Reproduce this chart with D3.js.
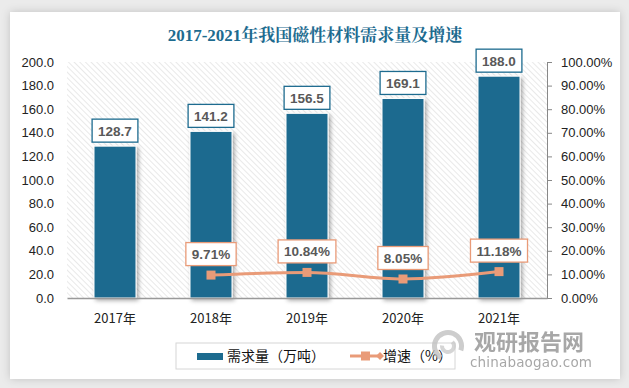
<!DOCTYPE html>
<html>
<head>
<meta charset="utf-8">
<script src="https://cdn.jsdelivr.net/npm/d3@7"></script>
<style>
  body { margin: 0; background: #ebebeb; }
  svg { display: block; }
</style>
</head>
<body>
<div id="viz"></div>
<script>
const years = ['2017年', '2018年', '2019年', '2020年', '2021年'];
const demand = [128.7, 141.2, 156.5, 169.1, 188.0];
const growth = [null, 9.71, 10.84, 8.05, 11.18];
const leftTicks = [0, 20, 40, 60, 80, 100, 120, 140, 160, 180, 200];
const rightTicks = [0, 10, 20, 30, 40, 50, 60, 70, 80, 90, 100];

const width = 629;
const height = 388;
const blue = '#1d6b8f';
const orange = '#e99b78';
const font = 'Arial, "Liberation Sans", sans-serif';
const cjk = '"Microsoft YaHei", "Noto Sans CJK SC", sans-serif';

const svg = d3.select('#viz').append('svg')
  .attr('width', width)
  .attr('height', height);

const defs = svg.append('defs');

const cardShadow = defs.append('filter').attr('id', 'cardShadow')
  .attr('x', '-5%').attr('y', '-5%').attr('width', '110%').attr('height', '110%');
cardShadow.append('feDropShadow')
  .attr('dx', 0).attr('dy', 0).attr('stdDeviation', 4)
  .attr('flood-color', '#000').attr('flood-opacity', 0.18);

const barShadow = defs.append('filter').attr('id', 'barShadow')
  .attr('x', '-20%').attr('y', '-10%').attr('width', '150%').attr('height', '120%');
barShadow.append('feDropShadow')
  .attr('dx', 2).attr('dy', 2).attr('stdDeviation', 2)
  .attr('flood-color', '#000').attr('flood-opacity', 0.35);

// hatched plot background, lines running top-left to bottom-right
const hatch = defs.append('pattern').attr('id', 'hatch')
  .attr('width', 4).attr('height', 4)
  .attr('patternUnits', 'userSpaceOnUse')
  .attr('patternTransform', 'rotate(-45)');
hatch.append('line')
  .attr('x1', 0).attr('y1', 0).attr('x2', 0).attr('y2', 4)
  .attr('stroke', '#d4d4d4').attr('stroke-width', 1);

// card
svg.append('rect')
  .attr('x', 10).attr('y', 12)
  .attr('width', 610).attr('height', 367)
  .attr('fill', '#fff')
  .attr('filter', 'url(#cardShadow)');

svg.append('text')
  .attr('x', 315).attr('y', 41)
  .attr('text-anchor', 'middle')
  .attr('fill', '#1d6b8f')
  .attr('font-family', '"Times New Roman", "Liberation Serif", "Noto Serif CJK SC", serif')
  .attr('font-weight', 'bold')
  .attr('font-size', 17)
  .text('2017-2021年我国磁性材料需求量及增速');

const plot = { left: 67, right: 547, top: 62, bottom: 298 };

const x = d3.scaleBand()
  .domain(years)
  .range([plot.left, plot.right])
  .paddingInner(0.56)
  .paddingOuter(0.28);

const yLeft = d3.scaleLinear().domain([0, 200]).range([plot.bottom, plot.top]);
const yRight = d3.scaleLinear().domain([0, 100]).range([plot.bottom, plot.top]);

svg.append('rect')
  .attr('x', plot.left).attr('y', plot.top)
  .attr('width', plot.right - plot.left)
  .attr('height', plot.bottom - plot.top)
  .attr('fill', 'url(#hatch)');

// left axis
const gl = svg.append('g')
  .attr('transform', `translate(${plot.left},0)`)
  .call(d3.axisLeft(yLeft).tickValues(leftTicks).tickFormat(d3.format('.1f')).tickSize(0).tickPadding(13));
gl.select('.domain').remove();
gl.selectAll('text').attr('font-family', font).attr('font-size', 13).attr('fill', '#222');

// right axis
const gr = svg.append('g')
  .attr('transform', `translate(${plot.right},0)`)
  .call(d3.axisRight(yRight).tickValues(rightTicks).tickFormat(d => d.toFixed(2) + '%').tickSize(5).tickPadding(9).tickSizeOuter(0));
gr.select('.domain').attr('stroke', '#888');
gr.selectAll('line').attr('stroke', '#888');
gr.selectAll('text').attr('font-family', font).attr('font-size', 13).attr('fill', '#222');

// bars
const bandX = d => x(d) + x.bandwidth() / 2;
const barW = 42;
svg.append('g').selectAll('rect')
  .data(demand)
  .enter()
  .append('rect')
  .attr('x', (d, i) => bandX(years[i]) - barW / 2)
  .attr('y', d => yLeft(d))
  .attr('width', barW)
  .attr('height', d => plot.bottom - yLeft(d))
  .attr('fill', blue)
  .attr('stroke', '#fff')
  .attr('stroke-width', 1)
  .attr('filter', 'url(#barShadow)');

// bottom axis
const gb = svg.append('g')
  .attr('transform', `translate(0,${plot.bottom})`)
  .call(d3.axisBottom(x).tickSize(0).tickPadding(16));
gb.select('.domain').attr('stroke', '#999').attr('stroke-width', 1.5);
gb.selectAll('text').attr('font-family', cjk).attr('font-size', 13).attr('fill', '#222');

// growth line
const pts = growth
  .map((g, i) => ({ year: years[i], g }))
  .filter(d => d.g !== null);

const line = d3.line()
  .curve(d3.curveMonotoneX)
  .x(d => bandX(d.year))
  .y(d => yRight(d.g));

svg.append('path')
  .datum(pts)
  .attr('d', line)
  .attr('fill', 'none')
  .attr('stroke', orange)
  .attr('stroke-width', 3);

svg.append('g').selectAll('rect')
  .data(pts)
  .enter()
  .append('rect')
  .attr('x', d => bandX(d.year) - 4.5)
  .attr('y', d => yRight(d.g) - 4.5)
  .attr('width', 9)
  .attr('height', 9)
  .attr('fill', orange);

// labels with boxes
function boxLabel(g, cx, bottom, label, border) {
  const t = g.append('text')
    .attr('x', cx).attr('y', bottom - 6.5)
    .attr('text-anchor', 'middle')
    .attr('font-family', font)
    .attr('font-weight', 'bold')
    .attr('font-size', 13.5)
    .attr('fill', '#595959')
    .text(label);
  const w = t.node().getComputedTextLength() + 12;
  g.insert('rect', 'text')
    .attr('x', cx - w / 2).attr('y', bottom - 23)
    .attr('width', w).attr('height', 23)
    .attr('fill', '#fff')
    .attr('stroke', border)
    .attr('stroke-width', 1.3);
}

demand.forEach((d, i) => {
  boxLabel(svg.append('g'), bandX(years[i]), yLeft(d) - 4, d.toFixed(1), blue);
});
pts.forEach(d => {
  boxLabel(svg.append('g'), bandX(d.year), yRight(d.g) - 9.5, d.g.toFixed(2) + '%', orange);
});

// legend
const lg = svg.append('g');
lg.append('rect')
  .attr('x', 176).attr('y', 343)
  .attr('width', 279).attr('height', 26)
  .attr('fill', '#fff')
  .attr('stroke', '#d6d6d6');
lg.append('rect')
  .attr('x', 197).attr('y', 353)
  .attr('width', 26).attr('height', 7)
  .attr('fill', blue);
lg.append('text')
  .attr('x', 227).attr('y', 361)
  .attr('font-family', cjk).attr('font-size', 14).attr('fill', '#111')
  .text('需求量（万吨）');
lg.append('line')
  .attr('x1', 350).attr('x2', 380).attr('y1', 356).attr('y2', 356)
  .attr('stroke', orange).attr('stroke-width', 3);
lg.append('rect')
  .attr('x', 361).attr('y', 351.5).attr('width', 9).attr('height', 9)
  .attr('fill', orange);
lg.append('path')
  .attr('d', 'M376,356 L380,352 L384,356 L380,360 Z')
  .attr('fill', orange);
lg.append('text')
  .attr('x', 383).attr('y', 361)
  .attr('font-family', cjk).attr('font-size', 14).attr('fill', '#111')
  .text('增速（%）');

// watermark
const wm = svg.append('g').attr('opacity', 0.75);
wm.append('path')
  .attr('d', d3.arc()({ innerRadius: 11, outerRadius: 16, startAngle: -2.6, endAngle: 1.9 }))
  .attr('transform', 'translate(448,346)')
  .attr('fill', '#bdbdbd');
wm.append('path')
  .attr('d', d3.arc()({ innerRadius: 4, outerRadius: 8, startAngle: 0.8, endAngle: 4.8 }))
  .attr('transform', 'translate(448,346)')
  .attr('fill', '#c8c8c8');
wm.append('text')
  .attr('x', 474).attr('y', 350)
  .attr('font-family', cjk).attr('font-weight', 'bold').attr('font-size', 22)
  .attr('fill', '#8a8a8a')
  .text('观研报告网');
wm.append('text')
  .attr('x', 470).attr('y', 367)
  .attr('font-family', '"DejaVu Sans", sans-serif').attr('font-size', 13.5)
  .attr('fill', '#8a8a8a')
  .attr('textLength', 122)
  .text('chinabaogao.com');
</script>
</body>
</html>
